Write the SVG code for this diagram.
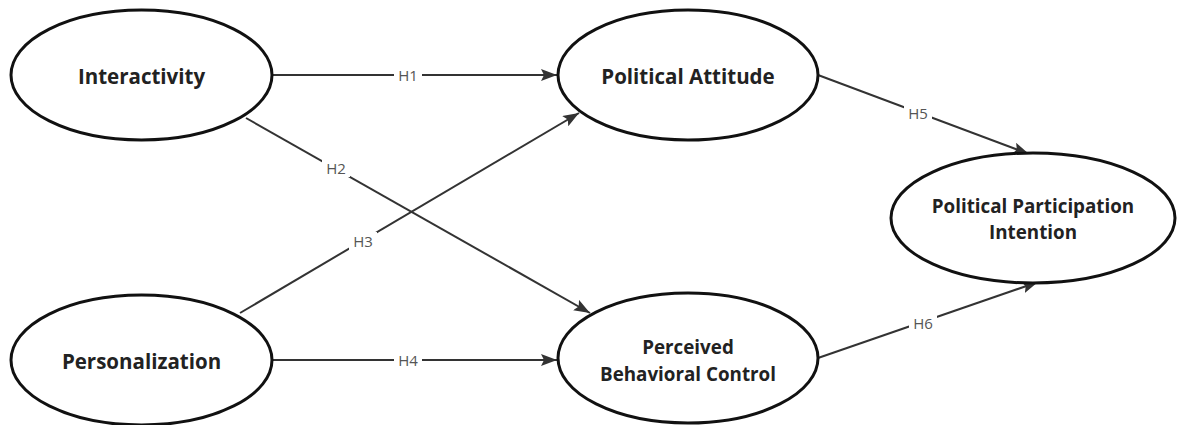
<svg xmlns="http://www.w3.org/2000/svg" width="1182" height="425" viewBox="0 0 1182 425">
<defs>
<marker id="arr" viewBox="0 0 16 12" refX="16" refY="6" markerWidth="16" markerHeight="12" markerUnits="userSpaceOnUse" orient="auto">
<path d="M0,0 L16,6 L0,12 L3,6 z" fill="#333"/>
</marker>
<style>
.node ellipse{fill:#fff;stroke:#111;stroke-width:3}
.node text{font-family:"Open Sans","Noto Sans",sans-serif;font-weight:bold;font-size:20.5px;fill:#222;text-anchor:middle}
.node text.sm{font-size:18.8px}
.edge{stroke:#333;stroke-width:2;fill:none;marker-end:url(#arr)}
.lbl{font-family:"Open Sans","Noto Sans",sans-serif;font-size:15px;fill:#555;text-anchor:middle;dominant-baseline:central}
.bg{fill:#fff}
</style>
</defs>
<rect width="1182" height="425" fill="#fff"/>
<g id="connectors">
<line class="edge" x1="272" y1="75" x2="557" y2="75"/>
<line class="edge" x1="246" y1="118" x2="590" y2="313"/>
<line class="edge" x1="240" y1="313" x2="579" y2="113"/>
<line class="edge" x1="272" y1="360" x2="557" y2="360"/>
<line class="edge" x1="818" y1="75" x2="1029" y2="154"/>
<line class="edge" x1="818" y1="358" x2="1038" y2="282"/>
<rect class="bg" x="394" y="66" width="28" height="18"/>
<text class="lbl" x="408" y="75">H1</text>
<rect class="bg" x="322" y="159" width="28" height="18"/>
<text class="lbl" x="336" y="168">H2</text>
<rect class="bg" x="349" y="232" width="28" height="18"/>
<text class="lbl" x="363" y="241">H3</text>
<rect class="bg" x="394" y="351" width="28" height="18"/>
<text class="lbl" x="408" y="360">H4</text>
<rect class="bg" x="904" y="104" width="28" height="18"/>
<text class="lbl" x="918" y="113">H5</text>
<rect class="bg" x="909" y="314" width="28" height="18"/>
<text class="lbl" x="923" y="323">H6</text>
</g>
<g id="interactivity" class="node">
<ellipse cx="141.5" cy="75" rx="130.5" ry="65"/>
<text x="141.5" y="84">Interactivity</text>
</g>
<g id="personalization" class="node">
<ellipse cx="141.5" cy="360" rx="130.5" ry="65"/>
<text x="141.5" y="369">Personalization</text>
</g>
<g id="political-attitude" class="node">
<ellipse cx="688" cy="75" rx="130" ry="65"/>
<text x="688" y="84">Political Attitude</text>
</g>
<g id="perceived-behavioral-control" class="node">
<ellipse cx="688" cy="358" rx="130" ry="65"/>
<text class="sm" x="688" y="354">Perceived</text>
<text class="sm" x="688" y="381">Behavioral Control</text>
</g>
<g id="political-participation-intention" class="node">
<ellipse cx="1033" cy="218" rx="142" ry="65"/>
<text class="sm" x="1033" y="213">Political Participation</text>
<text class="sm" x="1033" y="239">Intention</text>
</g>
</svg>
